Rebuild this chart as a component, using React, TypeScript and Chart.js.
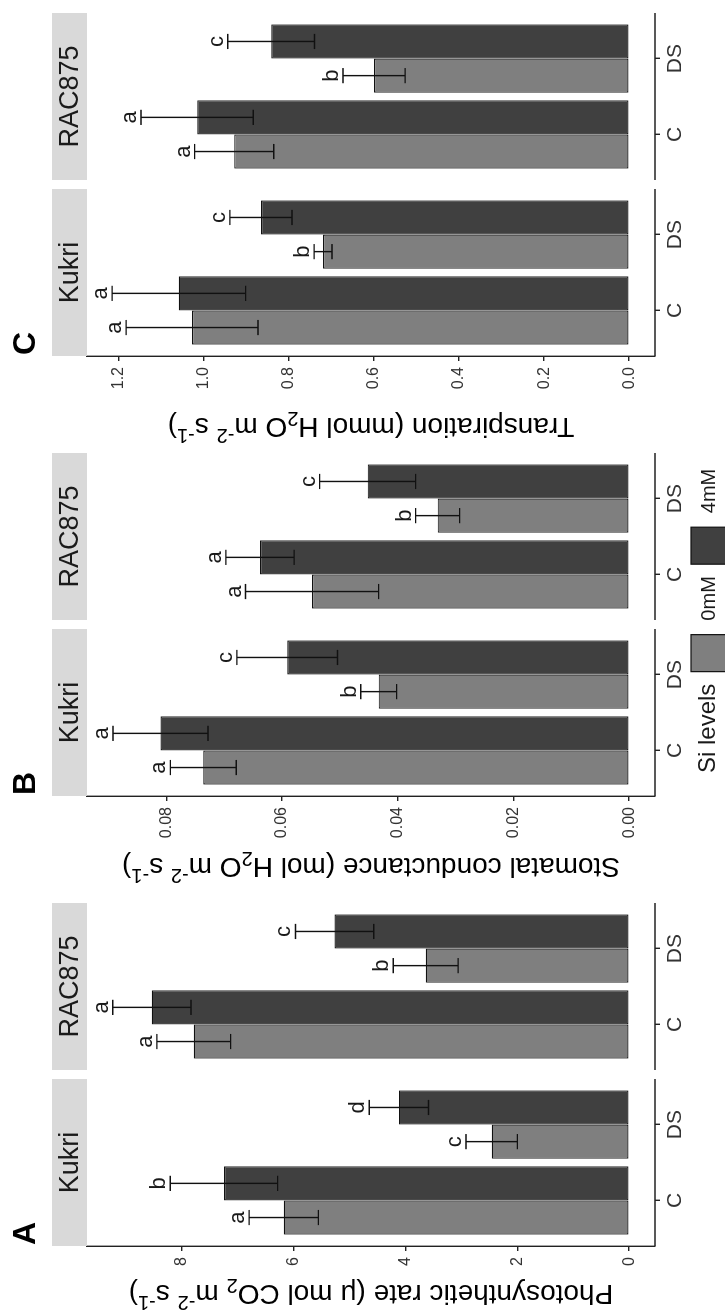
import React, { useEffect, useRef } from 'react';
import { Chart, registerables } from 'chart.js';

Chart.register(...registerables);

// ---------- data ----------
const facetNames = ['Kukri', 'RAC875'];
const treatments = ['C', 'DS'];
const siLevels = ['0mM', '4mM'];
const siColors = ['#7f7f7f', '#404040'];

// order of values: Kukri C, Kukri DS, RAC875 C, RAC875 DS
const photoMean0mM = [6.18, 2.46, 7.79, 3.64];
const photoMean4mM = [7.25, 4.12, 8.54, 5.27];
const photoSe0mM = [0.62, 0.46, 0.66, 0.58];
const photoSe4mM = [0.96, 0.53, 0.7, 0.7];
const photoLetters0mM = ['a', 'c', 'a', 'b'];
const photoLetters4mM = ['b', 'd', 'a', 'c'];
const photoTicks = [0, 2, 4, 6, 8];

const gsMean0mM = [0.0736, 0.0433, 0.0548, 0.0331];
const gsMean4mM = [0.081, 0.0591, 0.0638, 0.0452];
const gsSe0mM = [0.0057, 0.0031, 0.0115, 0.0038];
const gsSe4mM = [0.0082, 0.0087, 0.0059, 0.0083];
const gsLetters0mM = ['a', 'b', 'a', 'b'];
const gsLetters4mM = ['a', 'c', 'a', 'c'];
const gsTicks = [0, 0.02, 0.04, 0.06, 0.08];

const trMean0mM = [1.028, 0.72, 0.929, 0.6];
const trMean4mM = [1.059, 0.866, 1.016, 0.842];
const trSe0mM = [0.155, 0.021, 0.093, 0.073];
const trSe4mM = [0.157, 0.073, 0.132, 0.102];
const trLetters0mM = ['a', 'b', 'a', 'b'];
const trLetters4mM = ['a', 'c', 'a', 'c'];
const trTicks = [0, 0.2, 0.4, 0.6, 0.8, 1.0, 1.2];

type Seg = { t: string; sub?: boolean; sup?: boolean };
const photoTitle: Seg[] = [
  { t: 'Photosynthetic rate (\u03bc mol CO' }, { t: '2', sub: true }, { t: ' m' },
  { t: '-2', sup: true }, { t: ' s' }, { t: '-1', sup: true }, { t: ')' },
];
const gsTitle: Seg[] = [
  { t: 'Stomatal conductance (mol H' }, { t: '2', sub: true }, { t: 'O m' },
  { t: '-2', sup: true }, { t: ' s' }, { t: '-1', sup: true }, { t: ')' },
];
const trTitle: Seg[] = [
  { t: 'Transpiration (mmol H' }, { t: '2', sub: true }, { t: 'O m' },
  { t: '-2', sup: true }, { t: ' s' }, { t: '-1', sup: true }, { t: ')' },
];

// ---------- layout ----------
const FONT = '"Liberation Sans", Arial, Helvetica, sans-serif';
const FIG_W = 1313;
const FIG_H = 725;
const PLOT_TOP = 87;
const PLOT_BOTTOM = 655;
const STRIP_H = 35;
const EXPAND = 0.6;
const FACET_GAP = 0.1186;
const FACET_SPAN = treatments.length - 1 + 2 * EXPAND;
const AXIS_COLOR = '#222';
const TEXT_COLOR = '#1a1a1a';

const facetOffset = (f: number) => f * (FACET_SPAN + FACET_GAP);
const catX = facetNames.flatMap((_, f) => treatments.map((_, t) => facetOffset(f) + t));
const X_MIN = -EXPAND;
const X_MAX = facetOffset(facetNames.length - 1) - EXPAND + FACET_SPAN;

const panels = [
  {
    letter: 'A', title: photoTitle,
    means: [photoMean0mM, photoMean4mM], ses: [photoSe0mM, photoSe4mM],
    letters: [photoLetters0mM, photoLetters4mM], ticks: photoTicks, decimals: 0,
    yMin: -0.462, yMax: 9.7, canvasX: 0, canvasW: 420, axisW: 67, padRight: 10, titleX: 21, legend: false,
  },
  {
    letter: 'B', title: gsTitle,
    means: [gsMean0mM, gsMean4mM], ses: [gsSe0mM, gsSe4mM],
    letters: [gsLetters0mM, gsLetters4mM], ticks: gsTicks, decimals: 2,
    yMin: -0.00446, yMax: 0.0937, canvasX: 420, canvasW: 445, axisW: 97, padRight: 5, titleX: 28, legend: true,
  },
  {
    letter: 'C', title: trTitle,
    means: [trMean0mM, trMean4mM], ses: [trSe0mM, trSe4mM],
    letters: [trLetters0mM, trLetters4mM], ticks: trTicks, decimals: 1,
    yMin: -0.0607, yMax: 1.275, canvasX: 865, canvasW: 448, axisW: 92, padRight: 13, titleX: 23, legend: false,
  },
];

type Panel = typeof panels[number];

function drawRich(ctx: CanvasRenderingContext2D, segs: Seg[], cx: number, cy: number, size: number) {
  const small = Math.round(size * 0.72);
  ctx.save();
  ctx.translate(cx, cy);
  ctx.rotate(-Math.PI / 2);
  const widths = segs.map((s) => {
    ctx.font = `${s.sub || s.sup ? small : size}px ${FONT}`;
    return ctx.measureText(s.t).width;
  });
  const total = widths.reduce((a, b) => a + b, 0);
  let x = -total / 2;
  ctx.textAlign = 'left';
  ctx.textBaseline = 'alphabetic';
  ctx.fillStyle = '#000';
  const base = size * 0.26;
  segs.forEach((s, i) => {
    ctx.font = `${s.sub || s.sup ? small : size}px ${FONT}`;
    const dy = s.sub ? size * 0.22 : s.sup ? -size * 0.4 : 0;
    ctx.fillText(s.t, x, base + dy);
    x += widths[i];
  });
  ctx.restore();
}

function makePlugin(p: Panel) {
  return {
    id: 'facetDecor' + p.letter,
    afterDraw(chart: any) {
      const ctx: CanvasRenderingContext2D = chart.ctx;
      const xs = chart.scales.x;
      const ys = chart.scales.y;
      const area = chart.chartArea;
      ctx.save();
      // strips and facet bottom lines
      facetNames.forEach((name, f) => {
        const l = xs.getPixelForValue(facetOffset(f) - EXPAND);
        const r = xs.getPixelForValue(facetOffset(f) - EXPAND + FACET_SPAN);
        ctx.fillStyle = '#d9d9d9';
        ctx.fillRect(l, area.top - STRIP_H, r - l, STRIP_H);
        ctx.fillStyle = TEXT_COLOR;
        ctx.font = `27px ${FONT}`;
        ctx.textAlign = 'center';
        ctx.textBaseline = 'middle';
        ctx.fillText(name, (l + r) / 2, area.top - STRIP_H / 2 + 1);
        ctx.strokeStyle = AXIS_COLOR;
        ctx.lineWidth = 1.4;
        ctx.beginPath();
        ctx.moveTo(l, area.bottom);
        ctx.lineTo(r, area.bottom);
        ctx.stroke();
      });
      // error bars and letters
      const capHalf = Math.abs(xs.getPixelForValue(0.1) - xs.getPixelForValue(0));
      p.means.forEach((arr, d) => {
        const meta = chart.getDatasetMeta(d);
        arr.forEach((m, i) => {
          const bar = meta.data[i];
          const x = bar.x;
          const se = p.ses[d][i];
          const yt = ys.getPixelForValue(m + se);
          const yb = ys.getPixelForValue(m - se);
          ctx.strokeStyle = '#111';
          ctx.lineWidth = 1.4;
          ctx.beginPath();
          ctx.moveTo(x, yt); ctx.lineTo(x, yb);
          ctx.moveTo(x - capHalf, yt); ctx.lineTo(x + capHalf, yt);
          ctx.moveTo(x - capHalf, yb); ctx.lineTo(x + capHalf, yb);
          ctx.stroke();
          ctx.fillStyle = TEXT_COLOR;
          ctx.font = `22px ${FONT}`;
          ctx.textAlign = 'center';
          ctx.textBaseline = 'alphabetic';
          ctx.fillText(p.letters[d][i], x, yt - 5);
        });
      });
      // panel letter
      ctx.fillStyle = '#000';
      ctx.font = `bold 32px ${FONT}`;
      ctx.textAlign = 'left';
      ctx.textBaseline = 'alphabetic';
      ctx.fillText(p.letter, area.left + 1, 35);
      // y axis title
      drawRich(ctx, p.title, p.titleX, (area.top + area.bottom) / 2, 28);
      // legend
      if (p.legend) {
        let x = area.left + 23;
        const baseY = 715;
        ctx.fillStyle = TEXT_COLOR;
        ctx.font = `24px ${FONT}`;
        ctx.textAlign = 'left';
        ctx.fillText('Si levels', x, baseY);
        x += ctx.measureText('Si levels').width + 12;
        siLevels.forEach((lab, k) => {
          ctx.fillStyle = siColors[k];
          ctx.fillRect(x, 691, 37, 37);
          ctx.strokeStyle = '#111';
          ctx.lineWidth = 1.2;
          ctx.strokeRect(x, 691, 37, 37);
          x += 37 + 14;
          ctx.fillStyle = TEXT_COLOR;
          ctx.font = `20px ${FONT}`;
          ctx.fillText(lab, x, baseY);
          x += ctx.measureText(lab).width + 12;
        });
      }
      ctx.restore();
    },
  };
}

function buildConfig(p: Panel): any {
  return {
    type: 'bar',
    data: {
      datasets: siLevels.map((lab, d) => ({
        label: lab,
        data: catX.map((x, i) => ({ x, y: p.means[d][i] })),
        backgroundColor: siColors[d],
        borderColor: '#111',
        borderWidth: 1.2,
        borderSkipped: false,
        categoryPercentage: 0.9,
        barPercentage: 1.0,
      })),
    },
    options: {
      responsive: false,
      animation: false,
      layout: { padding: { top: PLOT_TOP, right: p.padRight, left: 0, bottom: 0 } },
      plugins: { legend: { display: false }, tooltip: { enabled: false }, title: { display: false } },
      scales: {
        x: {
          type: 'linear',
          min: X_MIN,
          max: X_MAX,
          offset: false,
          grid: {
            display: true, offset: false, drawOnChartArea: false, drawTicks: true,
            tickLength: 5, color: AXIS_COLOR, lineWidth: 1.4,
          },
          border: { display: false },
          ticks: {
            font: { size: 21, family: FONT }, color: '#333', padding: 3,
            autoSkip: false, maxRotation: 0, minRotation: 0,
            callback: (_v: any, i: number) => treatments[i % treatments.length],
          },
          afterBuildTicks: (s: any) => { s.ticks = catX.map((v) => ({ value: v })); },
          afterFit: (s: any) => { s.height = FIG_H - PLOT_BOTTOM; },
        },
        y: {
          type: 'linear',
          min: p.yMin,
          max: p.yMax,
          grid: { drawOnChartArea: false, drawTicks: true, tickLength: 5, color: AXIS_COLOR, lineWidth: 1.4 },
          border: { display: true, color: AXIS_COLOR, width: 1.4 },
          ticks: {
            font: { size: 16, family: FONT }, color: '#333', padding: 6,
            callback: (v: any) => Number(v).toFixed(p.decimals),
          },
          afterBuildTicks: (s: any) => { s.ticks = p.ticks.map((v) => ({ value: v })); },
          afterFit: (s: any) => { s.width = p.axisW; },
        },
      },
    },
    plugins: [makePlugin(p)],
  };
}

export default function App() {
  const r0 = useRef<HTMLCanvasElement>(null);
  const r1 = useRef<HTMLCanvasElement>(null);
  const r2 = useRef<HTMLCanvasElement>(null);
  const refs = [r0, r1, r2];
  useEffect(() => {
    const charts = panels.map((p, i) => new Chart(refs[i].current as HTMLCanvasElement, buildConfig(p)));
    return () => charts.forEach((c) => c.destroy());
  }, []);
  return (
    <div
      style={{
        position: 'absolute', left: 0, top: 0, width: FIG_W, height: FIG_H,
        background: '#fff', transformOrigin: '0 0',
        transform: `translateY(${FIG_W}px) rotate(-90deg)`,
      }}
    >
      {panels.map((p, i) => (
        <canvas
          key={p.letter}
          ref={refs[i]}
          width={p.canvasW}
          height={FIG_H}
          style={{ position: 'absolute', left: p.canvasX, top: 0, width: p.canvasW, height: FIG_H }}
        />
      ))}
    </div>
  );
}
